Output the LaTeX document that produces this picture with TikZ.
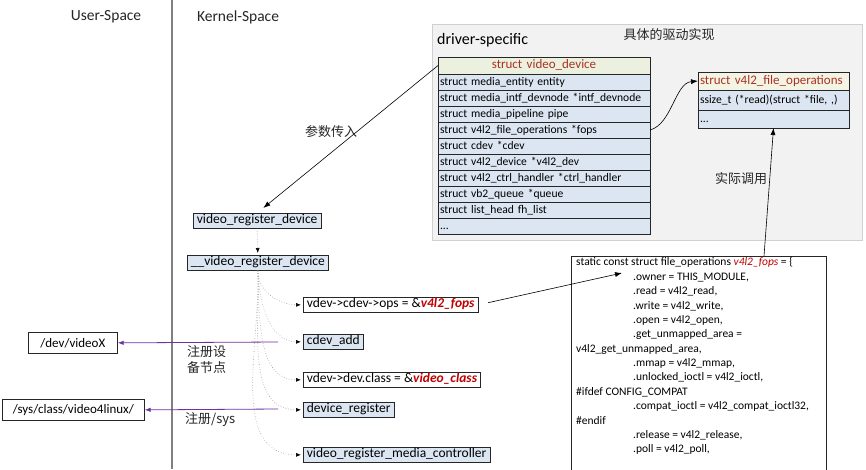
\documentclass[tikz,border=0pt]{standalone}
\usepackage{fontspec}
\setmainfont{Carlito}
\newfontfamily\cjk{Noto Sans CJK SC}
\usetikzlibrary{arrows.meta}
\definecolor{rowblue}{HTML}{DCE6F2}
\definecolor{hdgreen}{HTML}{EBF1DE}
\definecolor{hdcream}{HTML}{F4F4E4}
\definecolor{hdred}{HTML}{A93226}
\definecolor{fopsred}{HTML}{C00000}
\definecolor{panelgray}{HTML}{F2F2F2}
\definecolor{panelline}{HTML}{D0D0D0}
\definecolor{purp}{HTML}{7030A0}
\tikzset{
  vrow/.style={draw=black!85, line width=0.7pt, fill=rowblue, anchor=north west, minimum height=16pt, outer sep=0pt,
    text width=208pt, text height=8.5pt, text depth=2.5pt, inner xsep=2pt, inner ysep=0pt, align=left,
    font=\fontsize{11.6}{12.5}\selectfont},
  vhead/.style={vrow, fill=hdgreen, minimum height=17pt, align=center, text=hdred, font=\fontsize{13}{14}\selectfont},
  frow/.style={vrow, text width=147pt},
  fhead/.style={frow, fill=hdcream, minimum height=18pt, text=hdred, font=\fontsize{13}{14}\selectfont},
  fnbox/.style={draw=black!85, line width=0.7pt, fill=rowblue, anchor=north west, inner xsep=3.5pt, inner ysep=0pt,
    minimum height=15pt, text height=9pt, text depth=3pt, font=\fontsize{13.5}{14}\selectfont},
  wbox/.style={fnbox, fill=white},
  ubox/.style={draw=black!85, line width=0.7pt, fill=white, anchor=north west, inner sep=0pt, font=\fontsize{13}{14}\selectfont},
  codeln/.style={anchor=west, inner sep=0pt, font=\fontsize{11.5}{12}\selectfont},
  arr/.style={-{Latex[length=7pt,width=5pt]}, line width=0.6pt, black},
  dotarr/.style={dotted, gray!80, line width=0.6pt, -{Latex[length=5pt,width=4pt,black]}, shorten >=2pt},
  parr/.style={purp, line width=0.8pt, -{Latex[length=6pt,width=4.5pt]}},
  lbl/.style={inner sep=0pt, font=\cjk\fontsize{13}{16}\selectfont, text=black!85}
}
\begin{document}
\begin{tikzpicture}[x=1pt,y=-1pt]
\useasboundingbox (0,0) rectangle (866,469);
\clip (0,0) rectangle (866,469);
\fill[white] (0,0) rectangle (866,469);
% headings
\node[font=\fontsize{15.5}{16}\selectfont, text=black!85] (us) at (106,17) {User-Space};
\node[font=\fontsize{15.5}{16}\selectfont, text=black!85] (ks) at (238,17) {Kernel-Space};
\draw[gray, line width=1.5pt] (172,0) -- (172,469);
% panel
\node[draw=panelline, fill=panelgray, line width=1pt, anchor=north west, minimum width=430pt, minimum height=216pt, inner sep=0pt] (panel) at (432,24) {};
\node[anchor=west, inner sep=0pt, font=\fontsize{16}{17}\selectfont] (ds) at (437,40) {driver-specific};
\node[lbl] (impl) at (669,35) {具体的驱动实现};
% struct video_device
\node[vhead] (vd) at (438,57) {struct video\_device};
\node[vrow] (r1) at (vd.south west) {struct media\_entity entity};
\node[vrow] (r2) at (r1.south west) {\mbox{struct media\_intf\_devnode *intf\_devnode}};
\node[vrow] (r3) at (r2.south west) {struct media\_pipeline pipe};
\node[vrow] (r4) at (r3.south west) {struct v4l2\_file\_operations *fops};
\node[vrow] (r5) at (r4.south west) {struct cdev *cdev};
\node[vrow] (r6) at (r5.south west) {struct v4l2\_device *v4l2\_dev};
\node[vrow] (r7) at (r6.south west) {struct v4l2\_ctrl\_handler *ctrl\_handler};
\node[vrow] (r8) at (r7.south west) {struct vb2\_queue *queue};
\node[vrow] (r9) at (r8.south west) {struct list\_head fh\_list};
\node[vrow] (r10) at (r9.south west) {...};
% struct v4l2_file_operations
\node[fhead] (fh) at (698,72) {struct v4l2\_file\_operations};
\node[frow, minimum height=20pt] (f1) at (fh.south west) {\mbox{ssize\_t (*read)(struct *file, ,)}};
\node[frow, minimum height=18pt] (f2) at (f1.south west) {...};
% call chain
\node[fnbox] (vrd) at (193,213) {video\_register\_device};
\node[fnbox] (vrd2) at (187,255) {\_\_video\_register\_device};
\node[wbox] (ops) at (303,297) {vdev->cdev->ops = \&\textbf{\textit{\color{fopsred}v4l2\_fops}}};
\node[fnbox] (cadd) at (303,334) {cdev\_add};
\node[wbox] (cls) at (303,372) {vdev->dev.class = \&\textbf{\textit{\color{fopsred}video\_class}}};
\node[fnbox] (dreg) at (303,402) {device\_register};
\node[fnbox] (vrmc) at (303,447) {video\_register\_media\_controller};
% user space
\node[ubox, minimum width=89pt, minimum height=21pt] (vx) at (28,332) {/dev/videoX};
\node[ubox, minimum width=142pt, minimum height=21pt] (sys) at (2,399) {/sys/class/video4linux/};
% code box
\node[draw=black!85, line width=0.8pt, anchor=north west, minimum width=255pt, minimum height=240pt, inner sep=0pt] (codebox) at (571,256) {};
\node[codeln] (c1) at (576,262.7) {static const struct file\_operations \textit{\color{fopsred}v4l2\_fops} = \{};
\node[codeln] (c2) at (633,277.2) {.owner = THIS\_MODULE,};
\node[codeln] (c3) at (633,291.6) {.read = v4l2\_read,};
\node[codeln] (c4) at (633,306.0) {.write = v4l2\_write,};
\node[codeln] (c5) at (633,320.3) {.open = v4l2\_open,};
\node[codeln] (c6) at (633,334.7) {.get\_unmapped\_area =};
\node[codeln] (c7) at (576,349.0) {v4l2\_get\_unmapped\_area,};
\node[codeln] (c8) at (633,363.3) {.mmap = v4l2\_mmap,};
\node[codeln] (c9) at (633,377.7) {.unlocked\_ioctl = v4l2\_ioctl,};
\node[codeln] (c10) at (576,392.2) {\#ifdef CONFIG\_COMPAT};
\node[codeln] (c11) at (633,406.4) {.compat\_ioctl = v4l2\_compat\_ioctl32,};
\node[codeln] (c12) at (576,420.7) {\#endif};
\node[codeln] (c13) at (633,435.0) {.release = v4l2\_release,};
\node[codeln] (c14) at (633,449.3) {.poll = v4l2\_poll,};
% connectors
\coordinate (cstart) at (764,256);
\coordinate (codetip) at (622,273);
\coordinate (p1) at (278,342);
\coordinate (p2) at (278,409);
\draw[arr, shorten >=8pt] (vd.west) -- (vrd.north);
\node[lbl] (lp) at (331,132) {参数传入};
\draw[arr] (r4.east) .. controls (672,124) and (675,83) .. (fh.west);
\draw[arr] (cstart) -- (f2.south);
\node[lbl] (lc) at (741,179) {实际调用};
\draw[arr, shorten <=10pt] (ops.east) -- (codetip);
\draw[dotarr] (vrd.south) -- (vrd2.north);
\draw[dotarr] (vrd2.south) to[out=-90,in=180] (ops.west);
\draw[dotarr] (vrd2.south) to[out=-88,in=180] (cadd.west);
\draw[dotarr] (vrd2.south) to[out=-88,in=180] (cls.west);
\draw[dotarr] (vrd2.south) to[out=-88,in=180] (dreg.west);
\draw[dotarr] (vrd2.south) to[out=-88,in=180] (vrmc.west);
\draw[parr] (p1) -- (vx.east);
\draw[parr] (p2) -- (sys.east);
\node[lbl, anchor=north west, align=left] (l1) at (187,345) {注册设\\备节点};
\node[lbl, anchor=west] (l2) at (185,420) {注册/sys};
\end{tikzpicture}
\end{document}
